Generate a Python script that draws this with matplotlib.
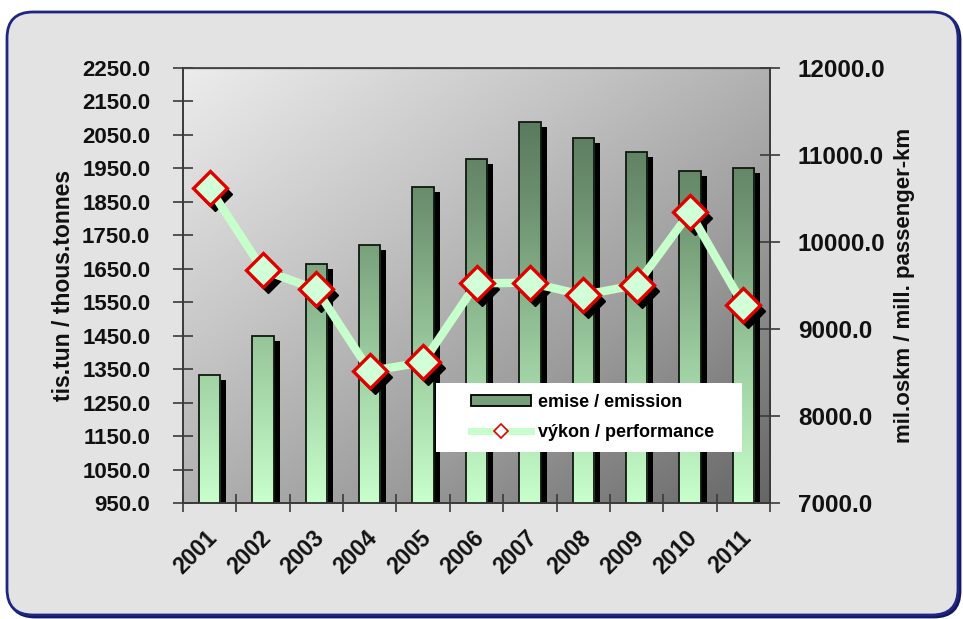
import numpy as np
import matplotlib
matplotlib.use("Agg")
import matplotlib.pyplot as plt
from matplotlib.patches import FancyBboxPatch, Patch, Rectangle
from matplotlib.lines import Line2D
from matplotlib.colors import LinearSegmentedColormap
from matplotlib import transforms

years = ["2001", "2002", "2003", "2004", "2005", "2006",
         "2007", "2008", "2009", "2010", "2011"]
emissions = [1332, 1450, 1663, 1721, 1893, 1979, 2088, 2042, 2000, 1942, 1950]
performance = [10617, 9678, 9456, 8517, 8617, 9525, 9532, 9391, 9506, 10341, 9276]

left_ticks = [950, 1050, 1150, 1250, 1350, 1450, 1550, 1650, 1750, 1850,
              1950, 2050, 2150, 2250]
right_ticks = [7000, 8000, 9000, 10000, 11000, 12000]

plt.rcParams['font.family'] = ['Liberation Sans', 'DejaVu Sans']

W, H = 963, 619
fig = plt.figure(figsize=(W / 100, H / 100), dpi=100)
fig.patch.set_facecolor("white")

# rounded panel behind the chart (with a slight dark shadow at bottom-right)
px0, py0, px1, py1 = 7, 12, 958, 615
box = (px0 / W, 1 - py1 / H, (px1 - px0) / W, (py1 - py0) / H)
shadow = FancyBboxPatch((box[0] + 2 / W, box[1] - 2 / H), box[2], box[3],
                        boxstyle="round,pad=0,rounding_size=0.027",
                        mutation_aspect=W / H, transform=fig.transFigure,
                        facecolor="#14185e", edgecolor="#14185e",
                        linewidth=2.0, zorder=0)
panel = FancyBboxPatch(box[:2], box[2], box[3],
                       boxstyle="round,pad=0,rounding_size=0.027",
                       mutation_aspect=W / H, transform=fig.transFigure,
                       facecolor="#e3e3e3", edgecolor="#1f2680",
                       linewidth=2.0, zorder=0)
fig.patches.extend([shadow, panel])

ax = fig.add_axes([183 / W, 1 - 503 / H, 587 / W, 435 / H])
ax2 = ax.twinx()
ax.set_zorder(1)
ax2.set_zorder(2)
ax.patch.set_visible(False)
ax2.patch.set_visible(False)

x = np.arange(len(years))

# diagonal grey gradient of the plotting area
gx, gy = np.meshgrid(np.linspace(0, 1, 300), np.linspace(1, 0, 300))
t = (gx + (1 - gy)) / 2.0
bg_cmap = LinearSegmentedColormap.from_list(
    "bg", ["#ececec", "#c6c6c6", "#9c9c9c", "#666666"])
ax.imshow(t, cmap=bg_cmap, extent=[0, 1, 0, 1], transform=ax.transAxes,
          aspect="auto", zorder=0, interpolation="bilinear")

# bar shadows
bar_w = 0.40
shadow_tr = transforms.offset_copy(ax.transData, fig=fig, x=6, y=-5, units="dots")
ax.bar(x, emissions, width=bar_w, color="black", transform=shadow_tr, zorder=1)

# bars with vertical green gradient
bar_cmap = LinearSegmentedColormap.from_list(
    "bars", ["#c8ffcc", "#9ccc9f", "#6f9472", "#4f6b52"])
grad = np.linspace(0, 1, 256).reshape(-1, 1)
bars = ax.bar(x, emissions, width=bar_w, facecolor="none",
              edgecolor="#101810", linewidth=1.3, zorder=3)
for b in bars:
    im = ax.imshow(grad, cmap=bar_cmap, origin="lower", aspect="auto",
                   extent=[b.get_x(), b.get_x() + b.get_width(),
                           left_ticks[0], left_ticks[-1]],
                   zorder=2, interpolation="bilinear")
    im.set_clip_path(b)
ax.set_xlim(-0.5, len(years) - 0.5)
ax.set_ylim(left_ticks[0], left_ticks[-1])
ax2.set_ylim(right_ticks[0], right_ticks[-1])

# performance line with shadowed diamond markers
mshadow_tr = transforms.offset_copy(ax2.transData, fig=fig, x=5, y=-6, units="dots")
ax2.plot(x, performance, linestyle="none", marker="D", markersize=17,
         color="black", transform=mshadow_tr, zorder=1)
ax2.plot(x, performance, color="#c6ffcc", linewidth=6, zorder=2,
         solid_joinstyle="round")
ax2.plot(x, performance, linestyle="none", marker="D", markersize=17,
         markerfacecolor="#d2ffd8", markeredgecolor="#e00000",
         markeredgewidth=2.4, zorder=3)

# axes styling
for a in (ax, ax2):
    for s in a.spines.values():
        s.set_color("#3a3a3a")
        s.set_linewidth(1.2)
ax.spines["top"].set_color("#808080")
ax.spines["top"].set_linewidth(1.0)

ax.set_yticks(left_ticks)
ax.set_yticklabels([f"{v:.1f}" for v in left_ticks], fontsize=16,
                   fontweight="bold", color="#111111")
ax.tick_params(axis="y", direction="inout", length=14, width=1.2,
               color="#3a3a3a", pad=16.5)
ax2.set_yticks(right_ticks)
ax2.set_yticklabels([f"{v:.1f}" for v in right_ticks], fontsize=17.5,
                    fontweight="bold", color="#111111")
ax2.tick_params(axis="y", direction="inout", length=14, width=1.2,
                color="#3a3a3a", pad=13)

# category boundary ticks, labels centred in categories
ax.set_xticks(np.arange(len(years) + 1) - 0.5)
ax.set_xticklabels([])
ax.tick_params(axis="x", which="major", direction="inout", length=13,
               width=1.2, color="#3a3a3a")
ax.set_xticks(x, minor=True)
ax.set_xticklabels(years, minor=True, rotation=45, ha="right",
                   rotation_mode="anchor", fontsize=16.5, fontweight="bold",
                   color="#111111")
ax.tick_params(axis="x", which="minor", length=0, pad=17)
shift = transforms.ScaledTranslation(-4 / 100, 0, fig.dpi_scale_trans)
for lab in ax.get_xticklabels(minor=True):
    lab.set_transform(lab.get_transform() + shift)

ax.set_ylabel("tis.tun / thous.tonnes", fontsize=16.5, fontweight="bold",
              color="#111111", labelpad=5)
ax2.set_ylabel("mil.oskm / mill. passenger-km", fontsize=16,
               fontweight="bold", color="#111111", labelpad=6)

# legend on a white box
ax2.add_patch(Rectangle((0.431, 0.117), 0.521, 0.159, transform=ax2.transAxes,
                        facecolor="white", edgecolor="none", zorder=4))
handles = [
    Patch(facecolor="#77a07a", edgecolor="black", linewidth=1.3),
    Line2D([0], [0], color="#c6ffcc", linewidth=5, marker="D",
           markersize=7, markerfacecolor="white",
           markeredgecolor="#e00000", markeredgewidth=1.2),
]
leg = ax2.legend(handles, ["emise / emission", "výkon / performance"],
                 loc="center left", bbox_to_anchor=(0.4906, 0.1965),
                 frameon=False, prop=dict(size=13, weight="bold"),
                 handlelength=3.3, handleheight=0.6, borderpad=0,
                 labelspacing=0.75, handletextpad=0.4, borderaxespad=0)
leg.set_zorder(5)

fig.savefig("out.png", dpi=100, facecolor=fig.get_facecolor())
